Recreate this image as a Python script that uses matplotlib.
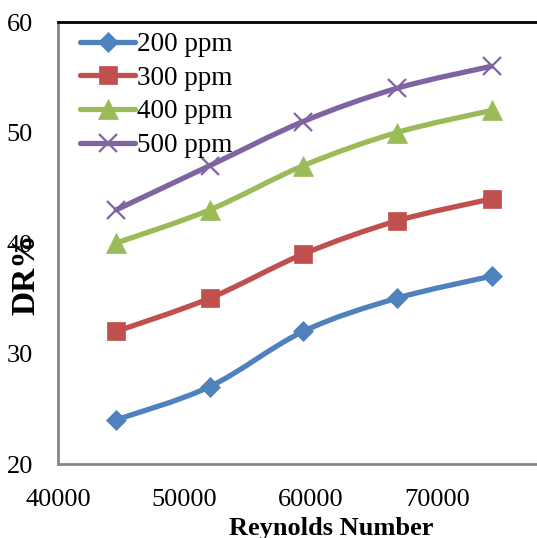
import numpy as np
import matplotlib
matplotlib.use("Agg")
import matplotlib.pyplot as plt
from matplotlib.path import Path
from matplotlib.patches import PathPatch
from matplotlib.lines import Line2D

plt.rcParams["font.family"] = ["Liberation Serif", "DejaVu Serif"]

# Reynolds numbers and drag reduction (%)
RE = [44600, 52000, 59400, 66800, 74300]
DR_200 = [24, 27, 32, 35, 37]
DR_300 = [32, 35, 39, 42, 44]
DR_400 = [40, 43, 47, 50, 52]
DR_500 = [43, 47, 51, 54, 56]

SERIES = [
    ("200 ppm", DR_200, "#4F81BD", "D", 10),
    ("300 ppm", DR_300, "#C0504D", "s", 13.5),
    ("400 ppm", DR_400, "#9BBB59", "^", 14),
    ("500 ppm", DR_500, "#8064A2", "x", 13),
]


def smooth_path(xs, ys):
    """Excel-style smoothed line: Catmull-Rom segments as cubic Beziers."""
    p = np.column_stack([xs, ys]).astype(float)
    n = len(p)
    verts = [p[0]]
    codes = [Path.MOVETO]
    for i in range(n - 1):
        p0 = p[i - 1] if i > 0 else p[i]
        p1, p2 = p[i], p[i + 1]
        p3 = p[i + 2] if i + 2 < n else p[i + 1]
        c1 = p1 + (p2 - p0) / 6.0
        c2 = p2 - (p3 - p1) / 6.0
        verts += [c1, c2, p2]
        codes += [Path.CURVE4] * 3
    return Path(verts, codes)


fig = plt.figure(figsize=(5.37, 5.38), dpi=100)
ax = fig.add_axes([0.108, 0.1375, 0.892, 0.8215])

handles = []
for label, ys, color, marker, ms in SERIES:
    ax.add_patch(PathPatch(smooth_path(RE, ys), fill=False, edgecolor=color,
                           linewidth=3.8, capstyle="round", zorder=2))
    mew = 1.6 if marker == "x" else 0.5
    ax.plot(RE, ys, linestyle="none", marker=marker, markersize=ms,
            color=color, markeredgecolor=color, markeredgewidth=mew, zorder=3)
    handles.append(Line2D([], [], color=color, linewidth=3.8,
                          solid_capstyle="round", marker=marker,
                          markersize=ms, markeredgewidth=mew, label=label))

ax.set_xlim(40000, 77900)
ax.set_ylim(20, 60)
ax.set_xticks([40000, 50000, 60000, 70000])
ax.set_yticks([20, 30, 40, 50, 60])
ax.tick_params(length=0, labelsize=19)
ax.tick_params(axis="y", pad=18)
ax.tick_params(axis="x", pad=18)

for side in ("left", "bottom"):
    ax.spines[side].set_color("#868686")
    ax.spines[side].set_linewidth(2)
ax.spines["top"].set_color("black")
ax.spines["top"].set_linewidth(2)
ax.spines["right"].set_visible(False)

ax.set_xlabel("Reynolds Number", fontsize=19, fontweight="bold")
ax.xaxis.set_label_coords(0.57, -0.12)
ax.set_ylabel("DR%", fontsize=24, fontweight="bold")
ax.yaxis.set_label_coords(-0.035, 0.43)

ax.legend(handles=handles, loc="upper left", bbox_to_anchor=(0.02, 1.005),
          frameon=False, fontsize=19.5, handlelength=2.05, handletextpad=0.05,
          labelspacing=0.32, borderaxespad=0.25, borderpad=0.2)

fig.savefig("out.png", dpi=100)
